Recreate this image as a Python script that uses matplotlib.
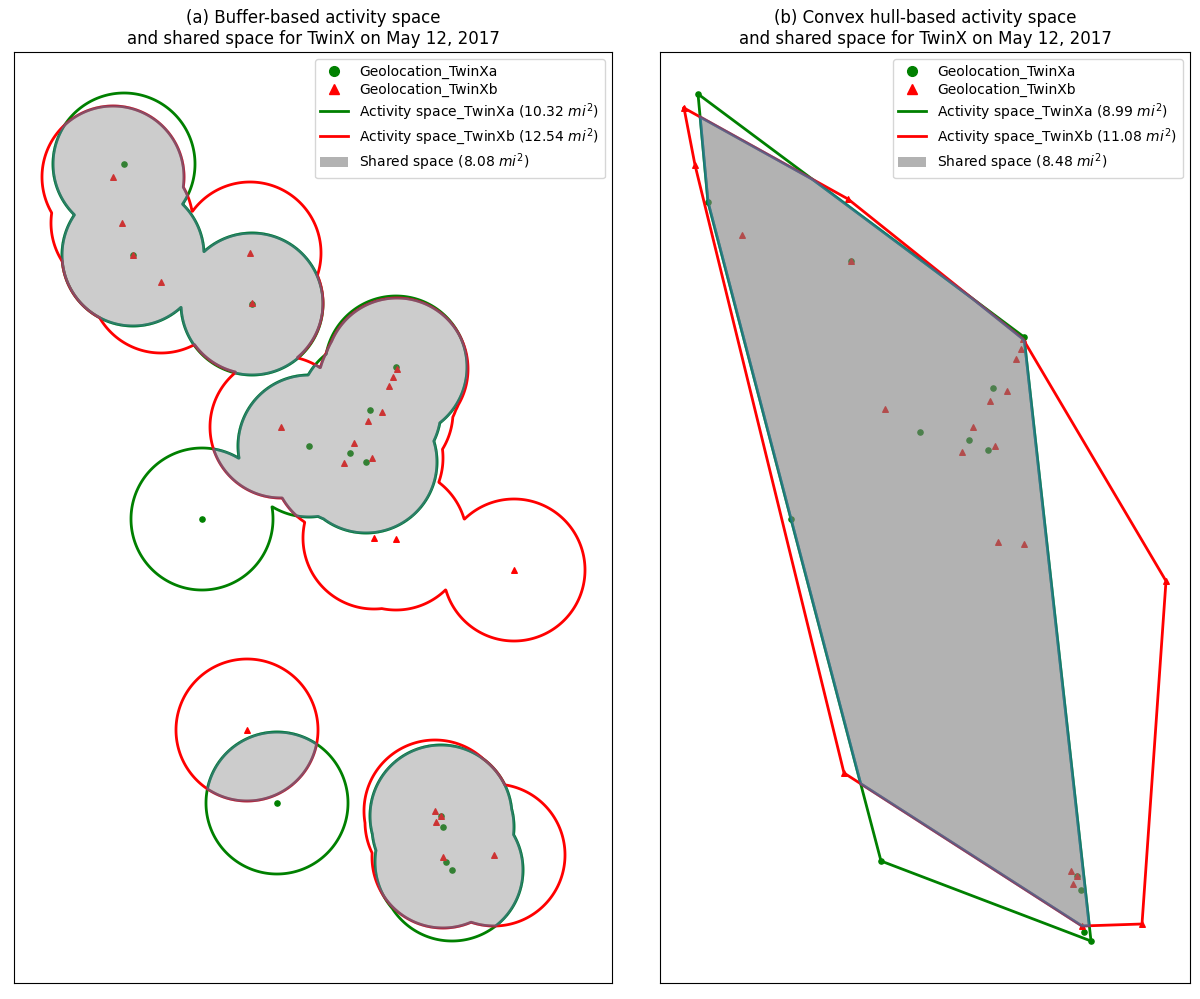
import numpy as np
import matplotlib
matplotlib.use("Agg")
import matplotlib.pyplot as plt
from matplotlib.lines import Line2D
from matplotlib.patches import Patch, Polygon

# ====== DATA (map units, y grows downward) ======
# (a) buffer-based panel
buf_a_x = [124, 133, 252, 396, 370, 309, 350, 366, 202, 277, 441, 443, 446, 452]
buf_a_y = [164, 255, 304, 367, 410, 446, 453, 462, 519, 803, 816, 827, 862, 870]
buf_b_x = [113, 122, 133, 161, 250, 252, 397, 393, 389, 382, 368, 281, 354, 344,
           372, 374, 396, 514, 247, 435, 441, 436, 443, 494]
buf_b_y = [177, 223, 255, 282, 253, 303, 369, 377, 386, 412, 421, 427, 443, 463,
           458, 538, 539, 570, 730, 811, 816, 822, 857, 855]
BUFFER_R = 71

# (b) convex hull panel
hull_a_x = [698, 708, 851, 1024, 993, 920, 969, 988, 791, 881, 1077, 1081, 1084, 1091]
hull_a_y = [94, 202, 261, 337, 388, 432, 440, 450, 519, 861, 876, 890, 932, 941]
hull_b_x = [684, 695, 742, 848, 851, 1023, 1021, 1016, 1007, 990, 885, 973, 995, 962,
            998, 1024, 1166, 844, 1071, 1077, 1073, 1082, 1142]
hull_b_y = [108, 165, 235, 199, 261, 339, 349, 359, 391, 401, 409, 427, 446, 452,
            542, 544, 581, 773, 871, 876, 884, 926, 924]

titles = ["(a) Buffer-based activity space\nand shared space for TwinX on May 12, 2017",
          "(b) Convex hull-based activity space\nand shared space for TwinX on May 12, 2017"]
areas_a = [10.32, 8.99]
areas_b = [12.54, 11.08]
areas_shared = [8.08, 8.48]


def convex_hull(xs, ys):
    pts = sorted(set(zip(xs, ys)))

    def cross(o, a, b):
        return (a[0] - o[0]) * (b[1] - o[1]) - (a[1] - o[1]) * (b[0] - o[0])

    lower, upper = [], []
    for p in pts:
        while len(lower) >= 2 and cross(lower[-2], lower[-1], p) <= 0:
            lower.pop()
        lower.append(p)
    for p in reversed(pts):
        while len(upper) >= 2 and cross(upper[-2], upper[-1], p) <= 0:
            upper.pop()
        upper.append(p)
    return lower[:-1] + upper[:-1]


def clip_convex(subject, clipper):
    # Sutherland-Hodgman, both polygons convex and same orientation
    def inside(p, a, b):
        return (b[0] - a[0]) * (p[1] - a[1]) - (b[1] - a[1]) * (p[0] - a[0]) >= 0

    def inter(p, q, a, b):
        x1, y1 = p; x2, y2 = q; x3, y3 = a; x4, y4 = b
        d = (x1 - x2) * (y3 - y4) - (y1 - y2) * (x3 - x4)
        t = ((x1 - x3) * (y3 - y4) - (y1 - y3) * (x3 - x4)) / d
        return (x1 + t * (x2 - x1), y1 + t * (y2 - y1))

    out = list(subject)
    for i in range(len(clipper)):
        a, b = clipper[i], clipper[(i + 1) % len(clipper)]
        inp, out = out, []
        for j in range(len(inp)):
            p, q = inp[j], inp[(j + 1) % len(inp)]
            if inside(q, a, b):
                if not inside(p, a, b):
                    out.append(inter(p, q, a, b))
                out.append(q)
            elif inside(p, a, b):
                out.append(inter(p, q, a, b))
    return out


def min_dist(X, Y, xs, ys):
    d = np.full(X.shape, np.inf)
    for px, py in zip(xs, ys):
        d = np.minimum(d, np.hypot(X - px, Y - py))
    return d


fig = plt.figure(figsize=(12, 9.99), dpi=100)
ax1 = fig.add_axes([14 / 1200, 1 - 983 / 999, 598 / 1200, 931 / 999])
ax2 = fig.add_axes([660 / 1200, 1 - 983 / 999, 530 / 1200, 931 / 999])

# ====== (a) BUFFERS ======
gx = np.arange(10, 616, 0.5)
gy = np.arange(48, 987, 0.5)
X, Y = np.meshgrid(gx, gy)
dA = min_dist(X, Y, buf_a_x, buf_a_y)
dB = min_dist(X, Y, buf_b_x, buf_b_y)
dS = np.maximum(dA, dB)

ax1.scatter(buf_a_x, buf_a_y, s=14, color="green", marker="o", zorder=2)
ax1.scatter(buf_b_x, buf_b_y, s=16, color="red", marker="^", zorder=2)
ax1.contour(X, Y, dA, levels=[BUFFER_R], colors="green", linewidths=2, zorder=3)
ax1.contour(X, Y, dB, levels=[BUFFER_R], colors="red", linewidths=2, zorder=3)
ax1.contourf(X, Y, dS, levels=[0, BUFFER_R], colors="gray", alpha=0.4, zorder=4)
ax1.contour(X, Y, dS, levels=[BUFFER_R], colors="#1f77b4", linewidths=2, alpha=0.4, zorder=5)
ax1.set_xlim(14, 612)
ax1.set_ylim(983, 52)

# ====== (b) CONVEX HULLS ======
hull_a = convex_hull(hull_a_x, hull_a_y)
hull_b = convex_hull(hull_b_x, hull_b_y)
shared = clip_convex(hull_a, hull_b)

ax2.scatter(hull_a_x, hull_a_y, s=14, color="green", marker="o", zorder=2)
ax2.scatter(hull_b_x, hull_b_y, s=16, color="red", marker="^", zorder=2)
for hull, col in [(hull_a, "green"), (hull_b, "red")]:
    hx = [p[0] for p in hull] + [hull[0][0]]
    hy = [p[1] for p in hull] + [hull[0][1]]
    ax2.plot(hx, hy, color=col, lw=2, zorder=3)
ax2.add_patch(Polygon(shared, closed=True, facecolor="gray", edgecolor="#1f77b4",
                      lw=2, alpha=0.6, zorder=4))
ax2.set_xlim(660, 1190)
ax2.set_ylim(983, 52)

# ====== TITLES / LEGENDS ======
for i, ax in enumerate([ax1, ax2]):
    ax.set_xticks([])
    ax.set_yticks([])
    ax.set_title(titles[i], fontsize=12)
    handles = [
        Line2D([], [], marker="o", color="green", ls="", markersize=7),
        Line2D([], [], marker="^", color="red", ls="", markersize=7),
        Line2D([], [], color="green", lw=2),
        Line2D([], [], color="red", lw=2),
        Patch(facecolor="gray", alpha=0.6),
    ]
    labels = [
        "Geolocation_TwinXa",
        "Geolocation_TwinXb",
        f"Activity space_TwinXa ({areas_a[i]:.2f} $mi^2$)",
        f"Activity space_TwinXb ({areas_b[i]:.2f} $mi^2$)",
        f"Shared space ({areas_shared[i]:.2f} $mi^2$)",
    ]
    ax.legend(handles, labels, loc="upper right", fontsize=10, labelspacing=0.3)

fig.savefig("out.png", dpi=100)
